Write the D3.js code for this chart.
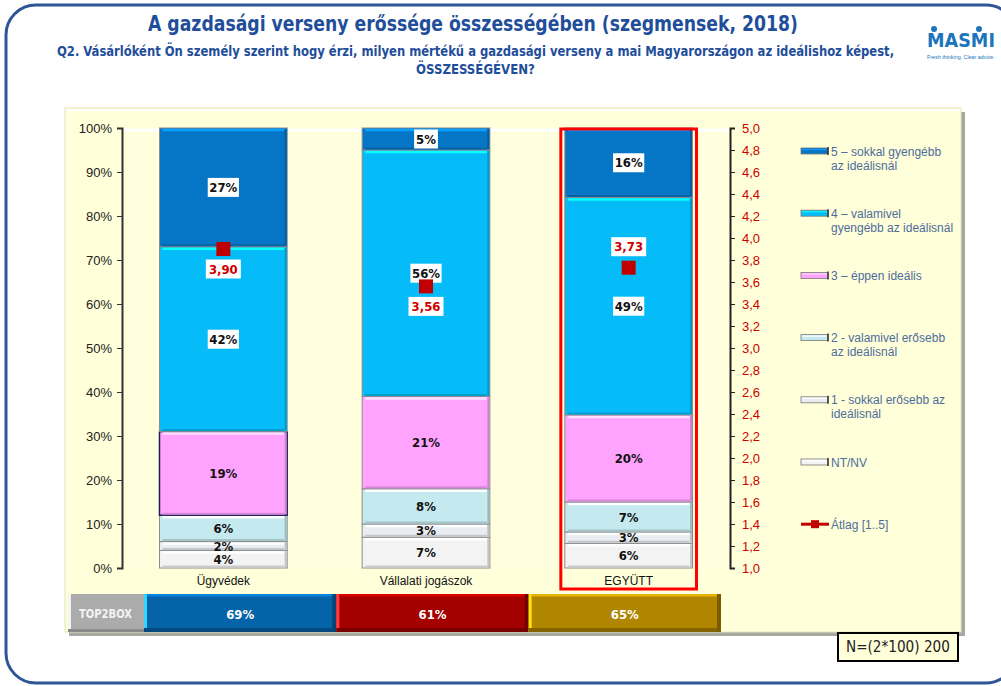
<!DOCTYPE html>
<html>
<head>
<meta charset="utf-8">
<script src="https://cdn.jsdelivr.net/npm/d3@7"></script>
<style>
  body { margin: 0; background: #fff; }
  svg { display: block; }
</style>
</head>
<body>
<svg id="chart" width="1001" height="686"></svg>
<script>
// data (bottom of stack first)
const categories = ["Ügyvédek", "Vállalati jogászok", "EGYÜTT"];
const seriesKeys = ["ntnv", "s1", "s2", "s3", "s4", "s5"];
const ntnv = [4, 7, 5.6];
const s1 = [2, 3, 2.6];
const s2 = [6, 8, 6.8];
const s3 = [19, 21, 19.8];
const s4 = [42, 56, 49.4];
const s5 = [27, 5, 15.8];
const averages = [3.90, 3.56, 3.73];
const avgLabelSide = ["below", "below", "above"];
const leftTicks = [0, 10, 20, 30, 40, 50, 60, 70, 80, 90, 100];
const rightTicks = [1.0, 1.2, 1.4, 1.6, 1.8, 2.0, 2.2, 2.4, 2.6, 2.8, 3.0, 3.2, 3.4, 3.6, 3.8, 4.0, 4.2, 4.4, 4.6, 4.8, 5.0];
const legendLines = [
  ["5 – sokkal gyengébb", "az ideálisnál"],
  ["4 – valamivel", "gyengébb az ideálisnál"],
  ["3 – éppen ideális"],
  ["2 -  valamivel erősebb", "az ideálisnál"],
  ["1 -  sokkal erősebb az", "ideálisnál"],
  ["NT/NV"],
  ["Átlag [1..5]"]
];
const top2Colors = ["#0563A8", "#A50000", "#B08500"];
const top2Edge = ["#33D6FF", "#FF3B3B", "#FFE600"];

const colors = {
  s5: "#0575C6",
  s4: "#05BCF8",
  s3: "#FFA3FF",
  s2: "#C4E9EE",
  s1: "#E9EDF1",
  ntnv: "#F3F3F3"
};

const svg = d3.select("#chart");
const narrow = "'DejaVu Sans Condensed', 'Liberation Sans Narrow', sans-serif";
const sans = "'Liberation Sans', Arial, sans-serif";
const commaFmt = f => v => d3.format(f)(v).replace(".", ",");

// squeeze a text horizontally so it spans the given width (left-aligned at x)
function fitText(sel, x0, y0, width) {
  sel.attr("x", 0).attr("y", 0);
  const w = sel.node().getComputedTextLength();
  sel.attr("transform", `translate(${x0},${y0}) scale(${width / w},1)`);
  return sel;
}

// outer rounded frame
svg.append("rect")
  .attr("x", 6).attr("y", 5).attr("width", 1010).attr("height", 678)
  .attr("rx", 30)
  .attr("fill", "none").attr("stroke", "#2F5597").attr("stroke-width", 3);

// titles
fitText(svg.append("text")
  .style("font-family", narrow).style("font-weight", "bold").style("font-size", "21px")
  .attr("fill", "#1F4E9A")
  .text("A gazdasági verseny erőssége összességében (szegmensek, 2018)"), 148, 31, 650);

fitText(svg.append("text")
  .style("font-family", narrow).style("font-weight", "bold").style("font-size", "14px")
  .attr("fill", "#1F4E9A")
  .text("Q2. Vásárlóként Ön személy szerint hogy érzi, milyen mértékű a gazdasági verseny a mai Magyarországon az ideálishoz képest,"), 57, 56, 838);
fitText(svg.append("text")
  .style("font-family", narrow).style("font-weight", "bold").style("font-size", "14px")
  .attr("fill", "#1F4E9A")
  .text("ÖSSZESSÉGÉVEN?"), 416, 74, 119);

// logo
const logo = svg.append("g");
fitText(logo.append("text")
  .style("font-family", narrow).style("font-weight", "bold").style("font-size", "20px")
  .attr("fill", "#1B75BC").text("MASMI"), 927, 47, 68);
logo.selectAll("circle").data([934, 979]).enter().append("circle")
  .attr("cx", d => d).attr("cy", 29).attr("r", 3).attr("fill", "#1B75BC");
fitText(logo.append("text")
  .style("font-family", sans).style("font-size", "5px")
  .attr("fill", "#1B75BC").text("Fresh thinking. Clear advice."), 927, 59, 68);

// chart panel
svg.append("rect").attr("x", 69).attr("y", 112).attr("width", 896).attr("height", 524).attr("fill", "#A8A8A0");
svg.append("rect").attr("x", 65).attr("y", 108).attr("width", 896).attr("height", 524)
  .attr("fill", "#FFFFD9").attr("stroke", "#E4E4C0").attr("stroke-width", 1);
svg.append("line").attr("x1", 66).attr("x2", 960).attr("y1", 110).attr("y2", 110)
  .attr("stroke", "#ffffff").attr("stroke-width", 2);

// scales
const y = d3.scaleLinear().domain([0, 100]).range([568, 128]);
const y2 = d3.scaleLinear().domain([1, 5]).range([568, 128]);
const x = d3.scaleBand().domain(categories).range([122, 730]).paddingInner(0.37).paddingOuter(0.185);

// plot area
svg.append("rect").attr("x", 122).attr("y", 128).attr("width", 608).attr("height", 440)
  .attr("fill", "#FFFFDD");
svg.append("line").attr("x1", 124).attr("x2", 728).attr("y1", 130).attr("y2", 130)
  .attr("stroke", "#ffffff").attr("stroke-width", 3);

// stacked bars
const rows = categories.map((c, i) => ({
  cat: c, ntnv: ntnv[i], s1: s1[i], s2: s2[i], s3: s3[i], s4: s4[i], s5: s5[i]
}));
const stacked = d3.stack().keys(seriesKeys)(rows);

const segs = svg.append("g").selectAll("g")
  .data(stacked).enter().append("g");

segs.each(function(series) {
  const g = d3.select(this);
  const key = series.key;
  const base = d3.color(colors[key]);
  series.forEach((d, i) => {
    const x0 = x(categories[i]);
    const w = x.bandwidth();
    const top = y(d[1]);
    const h = y(d[0]) - y(d[1]);
    g.append("rect")
      .attr("x", x0).attr("y", top).attr("width", w).attr("height", h)
      .attr("fill", colors[key])
      .attr("stroke", key === "s3" && i === 0 ? "#1C1C5A" : "#8C8C8C")
      .attr("stroke-width", key === "s3" && i === 0 ? 1.5 : 1);
    if (h > 4) {
      g.append("line")
        .attr("x1", x0 + 3).attr("x2", x0 + w - 3)
        .attr("y1", top + 2).attr("y2", top + 2)
        .attr("stroke", base.brighter(0.9)).attr("stroke-width", 2.5);
      g.append("line")
        .attr("x1", x0 + 3).attr("x2", x0 + w - 3)
        .attr("y1", top + h - 1.5).attr("y2", top + h - 1.5)
        .attr("stroke", base.darker(0.5)).attr("stroke-width", 2);
      g.append("line")
        .attr("x1", x0 + w - 1.5).attr("x2", x0 + w - 1.5)
        .attr("y1", top + 1).attr("y2", top + h - 1)
        .attr("stroke", base.darker(0.6)).attr("stroke-width", 2);
    }
  });
});

// value labels
const labelG = svg.append("g");
stacked.forEach(series => {
  series.forEach((d, i) => {
    const cx = x(categories[i]) + x.bandwidth() / 2;
    const cy = y((d[0] + d[1]) / 2);
    const txt = Math.round(d[1] - d[0]) + "%";
    if (series.key === "s4" || series.key === "s5") {
      const tw = txt.length * 7.4 + 9;
      labelG.append("rect")
        .attr("x", cx - tw / 2).attr("y", cy - 9.5).attr("width", tw).attr("height", 19)
        .attr("fill", "#ffffff");
    }
    labelG.append("text")
      .attr("x", cx).attr("y", cy).attr("dy", "0.36em")
      .attr("text-anchor", "middle")
      .style("font-family", narrow).style("font-weight", "bold").style("font-size", "13px")
      .attr("fill", "#111").text(txt);
  });
});

// axes
const leftAxis = svg.append("g").attr("transform", "translate(122,0)")
  .call(d3.axisLeft(y).tickValues(leftTicks).tickFormat(d => d + "%").tickSize(5).tickPadding(5));
leftAxis.select(".domain").attr("stroke", "#333").attr("stroke-width", 2);
leftAxis.selectAll(".tick line").attr("stroke", "#333");
leftAxis.selectAll("text").style("font-family", sans).style("font-size", "13px").attr("fill", "#222");

const rightAxis = svg.append("g").attr("transform", "translate(730,0)")
  .call(d3.axisRight(y2).tickValues(rightTicks).tickFormat(commaFmt(".1f")).tickSize(5).tickPadding(7));
rightAxis.select(".domain").attr("stroke", "#222").attr("stroke-width", 2);
rightAxis.selectAll(".tick line").attr("stroke", "#222");
rightAxis.selectAll("text").style("font-family", sans).style("font-size", "13px").attr("fill", "#CC0000");

// category labels
svg.append("g").selectAll("text").data(categories).enter().append("text")
  .attr("x", d => x(d) + x.bandwidth() / 2).attr("y", 585)
  .attr("text-anchor", "middle")
  .style("font-family", sans).style("font-size", "12px").attr("fill", "#111")
  .text(d => d);

// highlight box around EGYÜTT
svg.append("rect")
  .attr("x", x("EGYÜTT") - 4).attr("y", y(100) + 1)
  .attr("width", x.bandwidth() + 8).attr("height", 589 - y(100) - 1)
  .attr("fill", "none").attr("stroke", "#FF0000").attr("stroke-width", 3);

// averages
const avgG = svg.append("g");
averages.forEach((v, i) => {
  const cx = x(categories[i]) + x.bandwidth() / 2;
  const cy = y2(v);
  avgG.append("rect").attr("x", cx - 7).attr("y", cy - 7).attr("width", 14).attr("height", 14)
    .attr("fill", "#C00000");
  const ly = avgLabelSide[i] === "below" ? cy + 20 : cy - 21;
  avgG.append("rect").attr("x", cx - 17.5).attr("y", ly - 9.5).attr("width", 35).attr("height", 19)
    .attr("fill", "#ffffff");
  avgG.append("text")
    .attr("x", cx).attr("y", ly).attr("dy", "0.36em").attr("text-anchor", "middle")
    .style("font-family", narrow).style("font-weight", "bold").style("font-size", "13px")
    .attr("fill", "#CC0000").text(commaFmt(".2f")(v));
});

// legend
const legendColors = [colors.s5, colors.s4, colors.s3, colors.s2, colors.s1, colors.ntnv];
const leg = svg.append("g").selectAll("g").data(legendLines).enter().append("g")
  .attr("transform", (d, i) => `translate(801,${151 + i * 62.2})`);
leg.each(function(lines, i) {
  const g = d3.select(this);
  if (i < 6) {
    g.append("rect").attr("x", 0).attr("y", -3).attr("width", 27).attr("height", 6)
      .attr("fill", legendColors[i]).attr("stroke", "#777").attr("stroke-width", 0.8);
    g.append("line").attr("x1", 1).attr("x2", 26).attr("y1", -1.5).attr("y2", -1.5)
      .attr("stroke", d3.color(legendColors[i]).brighter(0.8)).attr("stroke-width", 1.2);
    g.append("line").attr("x1", 27).attr("x2", 27).attr("y1", -4).attr("y2", 4)
      .attr("stroke", "#333").attr("stroke-width", 1.5);
  } else {
    g.append("line").attr("x1", 0).attr("x2", 28).attr("y1", 0).attr("y2", 0)
      .attr("stroke", "#C00000").attr("stroke-width", 3);
    g.append("rect").attr("x", 10).attr("y", -4).attr("width", 8).attr("height", 8).attr("fill", "#C00000");
  }
  const t = g.append("text")
    .style("font-family", sans).style("font-size", "12px").attr("fill", "#4E6C9C");
  lines.forEach((ln, k) => {
    t.append("tspan").attr("x", 30).attr("y", 4.5 + k * 14).text(ln);
  });
});

// TOP2BOX row
svg.append("rect").attr("x", 68).attr("y", 594).attr("width", 76).attr("height", 38).attr("fill", "#ABABAB");
svg.append("rect").attr("x", 68).attr("y", 594).attr("width", 3).attr("height", 38).attr("fill", "#F4F4F4");
svg.append("rect").attr("x", 68).attr("y", 629).attr("width", 76).attr("height", 3).attr("fill", "#8A8A8A");
fitText(svg.append("text").attr("dy", "0.36em")
  .style("font-family", narrow).style("font-weight", "bold").style("font-size", "13px")
  .attr("fill", "#F4F4F4").text("TOP2BOX"), 79, 613, 53);

const xt = d3.scaleBand().domain(categories).range([144, 721]);
const top2 = categories.map((c, i) => s4[i] + s5[i]);
const tb = svg.append("g").selectAll("g").data(categories).enter().append("g");
tb.append("rect")
  .attr("x", d => xt(d)).attr("y", 594).attr("width", xt.bandwidth()).attr("height", 38)
  .attr("fill", (d, i) => top2Colors[i]);
tb.append("rect")
  .attr("x", d => xt(d)).attr("y", 594).attr("width", 3).attr("height", 38)
  .attr("fill", (d, i) => top2Edge[i]);
tb.append("rect")
  .attr("x", d => xt(d) + 3).attr("y", 594).attr("width", xt.bandwidth() - 3).attr("height", 2.5)
  .attr("fill", (d, i) => d3.color(top2Colors[i]).brighter(0.8));
tb.append("rect")
  .attr("x", d => xt(d)).attr("y", 628).attr("width", xt.bandwidth()).attr("height", 4)
  .attr("fill", (d, i) => d3.color(top2Colors[i]).darker(0.8));
tb.append("rect")
  .attr("x", d => xt(d) + xt.bandwidth() - 4).attr("y", 594).attr("width", 4).attr("height", 38)
  .attr("fill", (d, i) => d3.color(top2Colors[i]).darker(1));
tb.append("text")
  .attr("x", d => xt(d) + xt.bandwidth() / 2).attr("y", 614).attr("dy", "0.36em")
  .attr("text-anchor", "middle")
  .style("font-family", narrow).style("font-weight", "bold").style("font-size", "13px")
  .attr("fill", "#ffffff").text((d, i) => Math.round(top2[i]) + "%");

// N box
svg.append("rect").attr("x", 838).attr("y", 633).attr("width", 120).attr("height", 28)
  .attr("fill", "#FFFFD9").attr("stroke", "#000").attr("stroke-width", 2);
fitText(svg.append("text").attr("dy", "0.36em")
  .style("font-family", narrow).style("font-size", "15px").attr("fill", "#222")
  .text("N=(2*100) 200"), 846, 647, 104);
</script>
</body>
</html>
